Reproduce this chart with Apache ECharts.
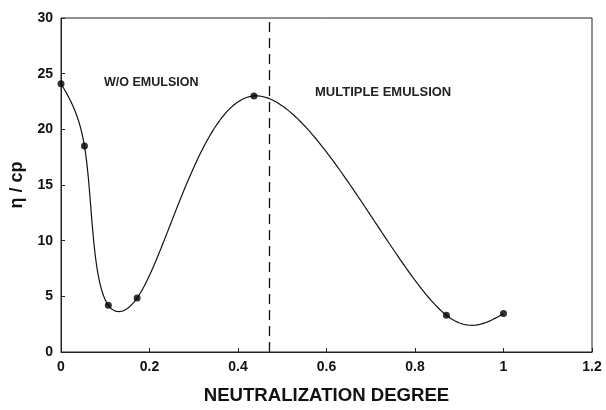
<!DOCTYPE html>
<html><head><meta charset="utf-8">
<script src="https://cdn.jsdelivr.net/npm/echarts@6/dist/echarts.min.js"></script>
<style>html,body{margin:0;padding:0;background:#fff}#c{width:606px;height:410px}</style>
</head><body><div id="c"></div>
<script>
const degree = [0, 0.053, 0.107, 0.172, 0.436, 0.871, 1.0];
const viscosity = [24.1, 18.5, 4.2, 4.85, 23.0, 3.3, 3.45];
const xTicks = {min: 0, max: 1.2, interval: 0.2};
const yTicks = {min: 0, max: 30, interval: 5};
const boundary = 0.471;
const regionLabels = ['W/O EMULSION', 'MULTIPLE EMULSION'];
const xName = 'NEUTRALIZATION DEGREE';
const yName = 'η / cp';

const font = 'Liberation Sans, Arial, sans-serif';
const pts = degree.map((d, i) => [d, viscosity[i]]);

// natural cubic spline second derivatives for parameter t
function natural(t, y) {
  const n = t.length, m = new Array(n).fill(0), a = [], b = [], c = [], d = [];
  for (let i = 1; i < n - 1; i++) {
    const h0 = t[i] - t[i - 1], h1 = t[i + 1] - t[i];
    a.push(h0); b.push(2 * (h0 + h1)); c.push(h1);
    d.push(6 * ((y[i + 1] - y[i]) / h1 - (y[i] - y[i - 1]) / h0));
  }
  const k = a.length;
  for (let i = 1; i < k; i++) { const w = a[i] / b[i - 1]; b[i] -= w * c[i - 1]; d[i] -= w * d[i - 1]; }
  const s = new Array(k);
  for (let i = k - 1; i >= 0; i--) s[i] = (d[i] - (i < k - 1 ? c[i] * s[i + 1] : 0)) / b[i];
  for (let i = 0; i < k; i++) m[i + 1] = s[i];
  return m;
}
function evalS(t, y, m, u) {
  let i = 0; while (i < t.length - 2 && u > t[i + 1]) i++;
  const h = t[i + 1] - t[i], A = (t[i + 1] - u) / h, B = (u - t[i]) / h;
  return A * y[i] + B * y[i + 1] + ((A * A * A - A) * m[i] + (B * B * B - B) * m[i + 1]) * h * h / 6;
}
// centripetal parametric spline through pixel positions of the data points
function curveThrough(P) {
  const t = [0];
  for (let i = 1; i < P.length; i++) t.push(t[i - 1] + Math.sqrt(Math.hypot(P[i][0] - P[i - 1][0], P[i][1] - P[i - 1][1])));
  const X = P.map(p => p[0]), Y = P.map(p => p[1]);
  const mx = natural(t, X), my = natural(t, Y), out = [], T = t[t.length - 1];
  for (let j = 0; j <= 500; j++) { const u = T * j / 500; out.push([evalS(t, X, mx, u), evalS(t, Y, my, u)]); }
  return out;
}

const chart = echarts.init(document.getElementById('c'), null, {renderer: 'canvas'});
chart.setOption({
  animation: false,
  backgroundColor: '#fff',
  grid: {left: 61, top: 18, right: 14, bottom: 53, show: true, borderColor: '#222', borderWidth: 1},
  xAxis: {
    type: 'value', min: xTicks.min, max: xTicks.max, interval: xTicks.interval,
    name: xName, nameLocation: 'middle', nameGap: 34,
    nameTextStyle: {fontFamily: font, fontWeight: 'bold', fontSize: 18.6, color: '#111'},
    axisLine: {lineStyle: {color: '#222', width: 1}},
    axisTick: {inside: true, length: 4, lineStyle: {color: '#222'}},
    axisLabel: {fontFamily: font, fontWeight: 'bold', fontSize: 14, color: '#111', margin: 8,
      formatter: v => String(Math.round(v * 10) / 10)},
    splitLine: {show: false}
  },
  yAxis: {
    type: 'value', min: yTicks.min, max: yTicks.max, interval: yTicks.interval,
    name: yName, nameLocation: 'middle', nameGap: 26, nameRotate: 90,
    nameTextStyle: {fontFamily: font, fontWeight: 'bold', fontSize: 18, color: '#111'},
    axisLine: {lineStyle: {color: '#222', width: 1}},
    axisTick: {inside: true, length: 4, lineStyle: {color: '#222'}},
    axisLabel: {fontFamily: font, fontWeight: 'bold', fontSize: 14, color: '#111', margin: 8},
    splitLine: {show: false}
  },
  series: [{
    type: 'custom',
    data: [0],
    silent: true,
    renderItem: function (params, api) {
      const P = pts.map(q => api.coord(q));
      return {type: 'polyline', shape: {points: curveThrough(P)}, style: {stroke: '#111', lineWidth: 1.2, fill: null}};
    },
    z: 2
  }, {
    type: 'scatter', data: pts, symbol: 'circle', symbolSize: 7,
    itemStyle: {color: '#000'}, z: 3,
    markLine: {
      silent: true, symbol: 'none', label: {show: false},
      lineStyle: {color: '#111', type: [10, 6], width: 1.3},
      data: [{xAxis: boundary}]
    }
  }],
  graphic: [
    {type: 'text', left: 104, top: 76, style: {text: regionLabels[0], font: 'bold 12.5px ' + font, fill: '#222'}},
    {type: 'text', left: 315, top: 86, style: {text: regionLabels[1], font: 'bold 13px ' + font, fill: '#222'}}
  ]
});
</script></body></html>
